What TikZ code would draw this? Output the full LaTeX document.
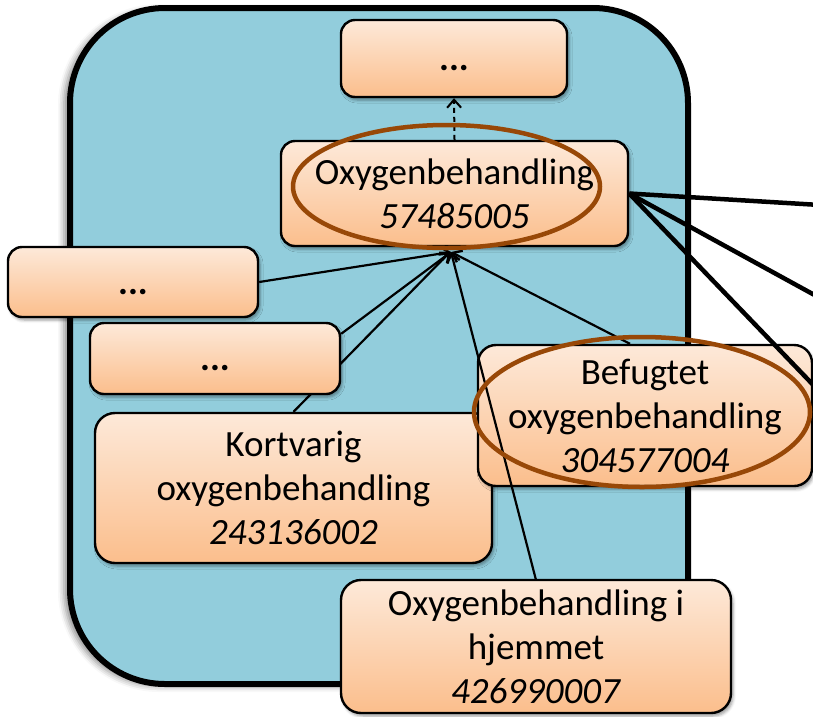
\documentclass[tikz,border=0pt]{standalone}
\usepackage{fontspec}
\setmainfont{Carlito}
\usetikzlibrary{shapes.geometric,arrows.meta,shadows.blur}
\definecolor{aqua}{HTML}{92CDDC}
\definecolor{otop}{HTML}{FDE9D9}
\definecolor{obot}{HTML}{FBBE8C}
\definecolor{hlbrown}{HTML}{984807}
\tikzset{
  conbox/.style={draw=black, line width=2.4pt, rounded corners=14pt,
    top color=otop, bottom color=obot, align=center, inner sep=0pt,
    font=\fontsize{37}{44}\selectfont,
    blur shadow={shadow xshift=2pt, shadow yshift=-3pt, shadow blur radius=3pt, shadow opacity=40}},
  hilite/.style={draw=hlbrown, line width=4.5pt, ellipse, inner sep=0pt},
  isa/.style={line width=2.2pt, -{Straight Barb[length=8pt,width=13pt,line width=2.4pt]}},
  outline/.style={line width=4.5pt},
}
\newcommand{\lowdots}{\raisebox{-12pt}[0pt][0pt]{\bfseries...}}
\begin{document}
\begin{tikzpicture}[x=1pt,y=-1pt]
\useasboundingbox (0,0) rectangle (813,716);
% big concept container
\path[fill=aqua, draw=black, line width=6pt, rounded corners=95pt,
  blur shadow={shadow xshift=-6pt, shadow yshift=-2pt, shadow blur radius=6pt, shadow opacity=45}]
  (70,8) rectangle (688,684);
% boxes
\node[conbox, minimum width=397pt, minimum height=150pt, rounded corners=20pt] (kort) at (293.5,488)
  {Kortvarig\\oxygenbehandling\\\textit{243136002}};
\draw[isa] (kort.north) -- (450,252) coordinate (tipk);
\node[conbox, minimum width=250pt, minimum height=70pt] (l1) at (133,282) {\lowdots};
\node[conbox, minimum width=250pt, minimum height=71pt] (l2) at (215,358.5) {\lowdots};
\node[conbox, minimum width=226pt, minimum height=77pt] (top) at (454,58.5) {\lowdots};
\node[conbox, minimum width=347pt, minimum height=105pt] (oxy) at (454.5,193.5)
  {Oxygenbehandling\\\textit{57485005}};
\node[conbox, minimum width=334pt, minimum height=141pt, rounded corners=18pt] (bef) at (645,415.5)
  {Befugtet\\oxygenbehandling\\\textit{304577004}};
\coordinate (tip) at (451,252);
\draw[isa] (536,580) -- (tip);
\node[conbox, minimum width=390pt, minimum height=133pt, rounded corners=20pt] (hjem) at (536,646.5)
  {Oxygenbehandling i\\hjemmet\\\textit{426990007}};
% connectors to the parent
\draw[isa] (l1.east) -- (tip);
\draw[isa] ([yshift=-12pt]l2.north east) -- (tip);
\draw[isa] ([xshift=-15pt]bef.north) -- (tip);
\draw[line width=2pt, dash pattern=on 5pt off 4pt,
  -{Straight Barb[length=8pt,width=14pt,line width=2pt]}] (oxy.north) -- (top.south);
% outgoing lines to the right
\coordinate (r1) at (820,205);
\coordinate (r2) at (820,298);
\coordinate (r3) at (820,392);
\draw[outline] (oxy.east) -- (r1);
\draw[outline] (oxy.east) -- (r2);
\draw[outline] (oxy.east) -- (r3);
% highlight ellipses
\node[hilite, minimum width=307pt, minimum height=123pt] (e1) at (446.5,186.5) {};
\node[hilite, minimum width=336pt, minimum height=150pt] (e2) at (642,412) {};
\end{tikzpicture}
\end{document}
